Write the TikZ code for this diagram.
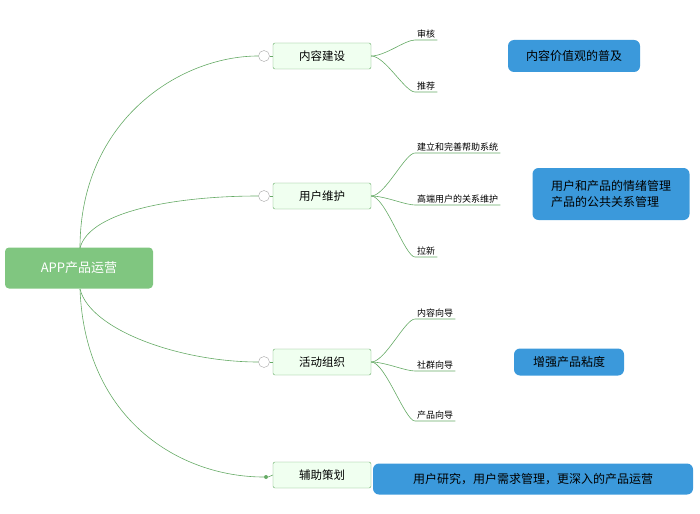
\documentclass[tikz,border=0pt]{standalone}
\usepackage{fontspec}
\setmainfont{Noto Sans CJK SC}
\begin{document}
\begin{tikzpicture}[x=1pt,y=-1pt,
  conn/.style={draw=green!45!black!60,line width=0.6pt},
  root/.style={rounded corners=4pt,fill=green!55!black!50,draw=none,text=white,minimum width=148pt,minimum height=41pt,font=\fontsize{13}{15}\selectfont},
  topic/.style={rounded corners=2pt,fill=green!6,draw=green!45!black!60,minimum width=98pt,minimum height=26pt,font=\fontsize{11.5}{13}\selectfont},
  leaf/.style={font=\fontsize{9}{11}\selectfont,inner sep=2pt,anchor=south west},
  note/.style={rounded corners=6pt,fill=cyan!70!blue!80,text=black,align=left,font=\fontsize{12}{16}\selectfont,inner sep=4pt},
  mnode/.style={circle,draw=gray!70,fill=white,minimum size=11pt,inner sep=0pt}]
\useasboundingbox (0,0) rectangle (700,513);
\node[root] (r) at (79,268) {APP产品运营};
\node[topic] (t1) at (322,56) {内容建设};
\node[topic] (t2) at (322,196) {用户维护};
\node[topic] (t3) at (322,362) {活动组织};
\node[topic] (t4) at (322,475) {辅助策划};
\coordinate (rt) at (80,248);
\coordinate (rb) at (80,289);
\node[mnode] (m1) at (264,56) {};
\node[mnode] (m2) at (264,196) {};
\node[mnode] (m3) at (264,362) {};
\node[circle,fill=green!45!black!60,inner sep=0pt,minimum size=4pt] (m4) at (266,477) {};
\draw[conn] (rt) .. controls (80,120) and (180,56) .. (m1.west);
\draw[conn] (rt) .. controls (90,210) and (180,196) .. (m2.west);
\draw[conn] (rb) .. controls (90,330) and (180,362) .. (m3.west);
\draw[conn] (rb) .. controls (85,420) and (180,477) .. (m4);
\foreach \a/\b in {m1/t1,m2/t2,m3/t3,m4/t4}{\draw[conn] (\a.east) -- (\b.west);}
% leaves
\newcommand\myleaf[5]{% name, topic, x, y, text
  \node[leaf] (#1) at (#3,#4) {#5};
  \draw[conn] (#2.east) .. controls ($(#2.east)+(14,0)$) and ($(#3,#4)+(-10,0)$) .. (#3,#4) -- (#1.south east);}
\usetikzlibrary{calc}
\myleaf{a1}{t1}{415}{40}{审核}
\myleaf{a2}{t1}{415}{92}{推荐}
\myleaf{b1}{t2}{415}{153}{建立和完善帮助系统}
\myleaf{b2}{t2}{415}{205}{高端用户的关系维护}
\myleaf{b3}{t2}{415}{257}{拉新}
\myleaf{c1}{t3}{415}{319}{内容向导}
\myleaf{c2}{t3}{415}{371}{社群向导}
\myleaf{c3}{t3}{415}{421}{产品向导}
\node[note,minimum width=132pt,minimum height=32pt] (n1) at (574,56) {内容价值观的普及};
\node[note,minimum width=157pt,minimum height=52pt] (n2) at (611,194) {用户和产品的情绪管理\\产品的公共关系管理};
\node[note,minimum width=110pt,minimum height=27pt] (n3) at (569,362) {增强产品粘度};
\node[note,minimum width=320pt,minimum height=31pt] (n4) at (533,479) {用户研究，用户需求管理，更深入的产品运营};
\end{tikzpicture}
\end{document}
